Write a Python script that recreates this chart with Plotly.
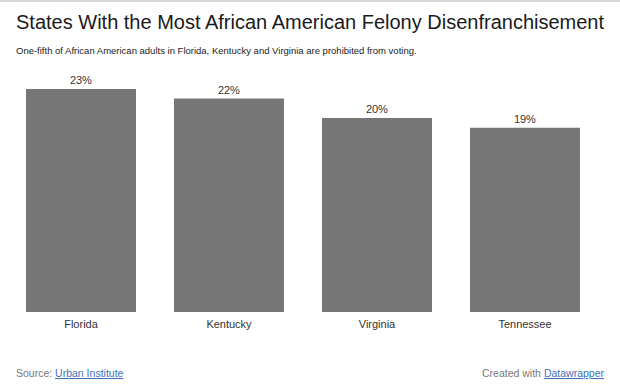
import plotly.graph_objects as go

states = ["Florida", "Kentucky", "Virginia", "Tennessee"]
values = [23, 22, 20, 19]
value_labels = ["23%", "22%", "20%", "19%"]

title = "States With the Most African American Felony Disenfranchisement"
subtitle = "One-fifth of African American adults in Florida, Kentucky and Virginia are prohibited from voting."

W, H = 620, 388
L, R, T, B = 7, 21, 70, 76
PW = W - L - R
PH = H - T - B

def px_x(x):
    return (x - L) / PW

def px_y(y):
    return (H - B - y) / PH

FONT = "Liberation Sans, Arial, Helvetica, sans-serif"

fig = go.Figure(go.Bar(
    x=states, y=values, text=value_labels,
    textposition="outside", cliponaxis=False,
    textfont=dict(size=11, color="#333333", family=FONT),
    marker=dict(color="#767676", line=dict(width=0)),
    hoverinfo="skip",
))

fig.update_layout(
    width=W, height=H,
    margin=dict(l=L, r=R, t=T, b=B),
    paper_bgcolor="white", plot_bgcolor="white",
    bargap=0.257,
    showlegend=False,
    font=dict(family=FONT, color="#333333"),
    xaxis=dict(showgrid=False, zeroline=False, showline=False, ticks="",
               ticklabelstandoff=4, fixedrange=True,
               tickfont=dict(size=11, color="#333333", family=FONT)),
    yaxis=dict(range=[0, PH / 9.7], visible=False, showgrid=False, zeroline=False,
               fixedrange=True),
    annotations=[
        dict(text=title, xref="paper", yref="paper", x=px_x(14), y=px_y(22),
             xanchor="left", yanchor="middle", showarrow=False,
             font=dict(size=20, color="#1a1a1a", family=FONT)),
        dict(text=subtitle, xref="paper", yref="paper", x=px_x(14), y=px_y(51),
             xanchor="left", yanchor="middle", showarrow=False,
             font=dict(size=9.5, color="#222222", family=FONT)),
        dict(text='Source: <span style="color:#3f6fb5;text-decoration:underline">Urban Institute</span>',
             xref="paper", yref="paper", x=px_x(14), y=px_y(373),
             xanchor="left", yanchor="middle", showarrow=False,
             font=dict(size=10.5, color="#777777", family=FONT)),
        dict(text='Created with <span style="color:#3f6fb5;text-decoration:underline">Datawrapper</span>',
             xref="paper", yref="paper", x=px_x(606), y=px_y(373),
             xanchor="right", yanchor="middle", showarrow=False,
             font=dict(size=10.5, color="#777777", family=FONT)),
    ],
    shapes=[
        dict(type="line", xref="paper", yref="paper", x0=px_x(0), x1=px_x(W),
             y0=px_y(1), y1=px_y(1), line=dict(color="#d8d8d8", width=2)),
    ],
)

fig.write_html("out.html", config={"displayModeBar": False},
               post_script="document.body.style.margin='0';document.body.style.padding='0';")
